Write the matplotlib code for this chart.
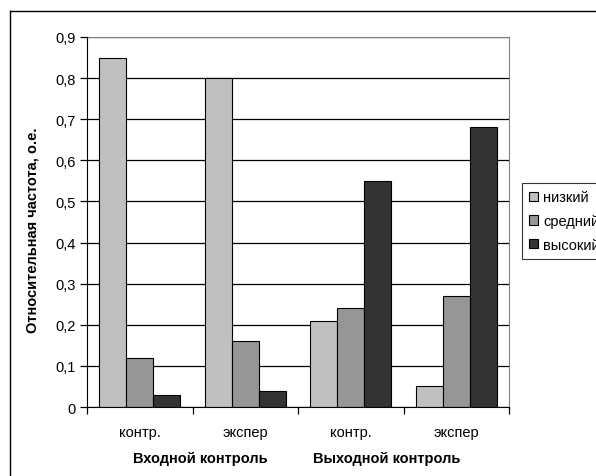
import numpy as np
import matplotlib.pyplot as plt
from matplotlib.lines import Line2D
from matplotlib.patches import Patch

plt.rcParams['font.family'] = ['Liberation Sans', 'DejaVu Sans']

categories = ["контр.", "экспер", "контр.", "экспер"]
groups = ["Входной контроль", "Выходной контроль"]
series = ["низкий", "средний", "высокий"]
low = [0.85, 0.80, 0.21, 0.05]
mid = [0.12, 0.16, 0.24, 0.27]
high = [0.03, 0.04, 0.55, 0.68]
colors = ["#C0C0C0", "#969696", "#333333"]

fs = 10.5

fig = plt.figure(figsize=(5.96, 4.77), dpi=100)
ax = fig.add_axes([87 / 596, 1 - 408 / 477, 422 / 596, 370 / 477])

x = np.arange(len(categories))
w = 0.256
for i, (vals, c) in enumerate(zip([low, mid, high], colors)):
    ax.bar(x + (i - 1) * w, vals, w, color=c, edgecolor="black", linewidth=0.8,
           zorder=3, label=series[i])

ax.set_xlim(-0.5, 3.5)
ax.set_ylim(0, 0.9)
yt = np.arange(0, 0.91, 0.1)
ax.set_yticks(yt)
ax.set_yticklabels([("%.1f" % v).replace(".", ",") if v > 0 else "0" for v in yt],
                   fontsize=fs)
ax.yaxis.grid(True, color="black", linewidth=0.9, zorder=0)
ax.tick_params(axis="y", direction="out", length=5, width=0.9, pad=3)

# category separators as major ticks, names as minor ticks
ax.set_xticks(np.arange(-0.5, 3.6, 1))
ax.set_xticklabels([])
ax.set_xticks(x, minor=True)
ax.set_xticklabels(categories, minor=True, fontsize=fs)
ax.tick_params(axis="x", which="major", direction="out", length=5, width=0.9)
ax.tick_params(axis="x", which="minor", length=0, pad=13)

for s in ["top", "right"]:
    ax.spines[s].set_color("#808080")
for s in ["left", "bottom"]:
    ax.spines[s].set_color("black")
    ax.spines[s].set_zorder(4)

ax.set_ylabel("Относительная частота, о.е.", fontsize=fs, fontweight="bold")
ax.yaxis.set_label_coords(-47 / 422, (408 - 230) / 370)

fig.text(200 / 596, 1 - 459 / 477, groups[0], ha="center", va="center",
         fontsize=fs, fontweight="bold")
fig.text(387 / 596, 1 - 459 / 477, groups[1], ha="center", va="center",
         fontsize=fs, fontweight="bold")

handles = [Patch(facecolor=c, edgecolor="black", linewidth=0.8) for c in colors]
leg = fig.legend(handles, series, loc="upper left",
                 bbox_to_anchor=(522 / 596, 1 - 184 / 477), fontsize=fs,
                 frameon=True, fancybox=False, handlelength=0.6,
                 handleheight=0.6, handletextpad=0.35, borderpad=0.5,
                 labelspacing=0.67, borderaxespad=0)
leg.get_frame().set_edgecolor("black")
leg.get_frame().set_linewidth(0.8)

# outer chart frame
fig.add_artist(Line2D([10 / 596, 10 / 596], [0, 1 - 12 / 477],
                      transform=fig.transFigure, color="black", linewidth=1))
fig.add_artist(Line2D([10 / 596, 1], [1 - 12 / 477, 1 - 12 / 477],
                      transform=fig.transFigure, color="black", linewidth=1))

fig.savefig("out.png", dpi=100)
